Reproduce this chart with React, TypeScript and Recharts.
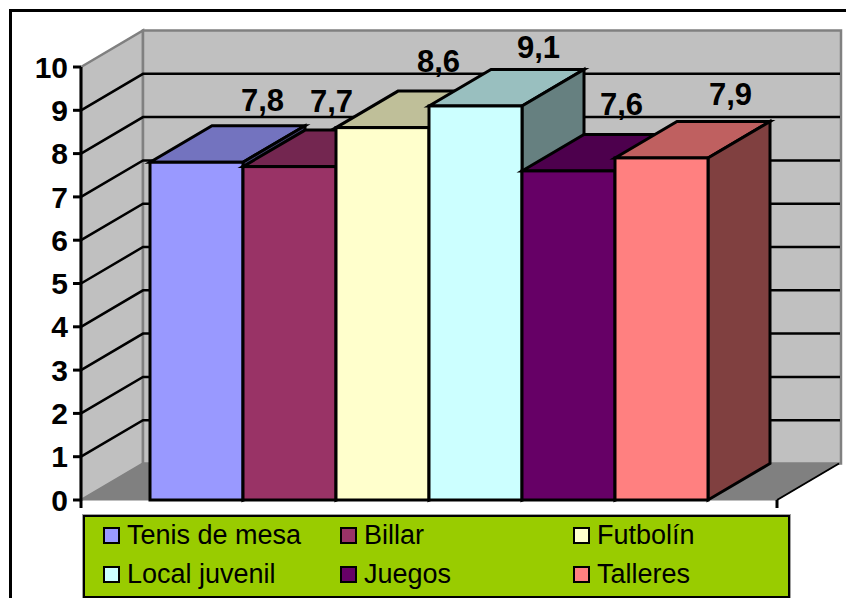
import React from "react";
import { BarChart, Bar, XAxis, YAxis, CartesianGrid, Legend, LabelList, ReferenceArea } from "recharts";

const categories = ["Satisfacción"];
const seriesNames = ["Tenis de mesa", "Billar", "Futbolín", "Local juvenil", "Juegos", "Talleres"];
const seriesValues = [7.8, 7.7, 8.6, 9.1, 7.6, 7.9];
const seriesFront = ["#9999FF", "#993366", "#FFFFCC", "#CCFFFF", "#660066", "#FF8080"];
const seriesTop = ["#7373BF", "#732650", "#BFBF99", "#99BFBF", "#4D004D", "#BF6060"];
const seriesSide = ["#4D4D80", "#4D1A33", "#808066", "#668080", "#330033", "#804040"];
const yTicks = [0, 1, 2, 3, 4, 5, 6, 7, 8, 9, 10];
const labelShiftX = [66, 42, 56, 63, 53, 69];
const labelShiftY = [-51, -55, -56, -48, -56, -53];

const DX = 62;
const DY = -36.5;
const W = 846;
const H = 598;
const TOP = 67;
const BOTTOM = 500;
const FONT = "'Liberation Sans', Arial, sans-serif";

const table = categories.map((c) => {
  const row: Record<string, string | number> = { name: c };
  seriesNames.forEach((s, i) => (row[s] = seriesValues[i]));
  return row;
});

const Walls = (p: any) => {
  const { x, y, width, height } = p;
  const b = y + height;
  const r = x + width;
  return (
    <g>
      <polygon points={`${x},${y} ${x + DX},${y + DY} ${x + DX},${b + DY} ${x},${b}`} fill="#C0C0C0" stroke="#808080" strokeWidth={2.5} />
      <rect x={x + DX} y={y + DY} width={width + 2} height={height} fill="#C0C0C0" stroke="#808080" strokeWidth={2.5} />
      <polygon points={`${x},${b} ${x + DX},${b + DY} ${r + DX},${b + DY} ${r},${b}`} fill="#808080" stroke="#808080" strokeWidth={1} />
      <line x1={r} y1={b} x2={r + DX} y2={b + DY} stroke="#000" strokeWidth={2} />
      <line x1={x} y1={b} x2={x} y2={b + 8} stroke="#000" strokeWidth={3} />
      <line x1={r} y1={b} x2={r} y2={b + 8} stroke="#000" strokeWidth={3} />
    </g>
  );
};

const GridLine = (p: any) => {
  const { x1, x2, y1 } = p;
  if (Math.abs(y1 - TOP) < 1 || Math.abs(y1 - BOTTOM) < 1) return <g key={p.key} />;
  return (
    <polyline
      key={p.key}
      points={`${x1},${y1} ${x1 + DX},${y1 + DY} ${x2 + DX + 1},${y1 + DY}`}
      fill="none"
      stroke="#000"
      strokeWidth={2.5}
    />
  );
};

const Box = (p: any) => {
  const { x, y, width, height, index2 } = p;
  const r = x + width;
  const b = y + height;
  const line = { stroke: "#000", strokeWidth: 3, strokeLinejoin: "miter" as const };
  return (
    <g>
      <polygon points={`${x},${y} ${x + DX},${y + DY} ${r + DX},${y + DY} ${r},${y}`} fill={seriesTop[index2]} {...line} />
      <polygon points={`${r},${y} ${r + DX},${y + DY} ${r + DX},${b + DY} ${r},${b}`} fill={seriesSide[index2]} {...line} />
      <rect x={x} y={y} width={width} height={height} fill={seriesFront[index2]} {...line} />
    </g>
  );
};

const BarLabel = (i: number) => (p: any) => {
  const { x, y, width } = p;
  return (
    <text
      x={x + width / 2 + labelShiftX[i]}
      y={y + labelShiftY[i]}
      textAnchor="middle"
      fontFamily={FONT}
      fontWeight="bold"
      fontSize={31}
      fill="#000"
    >
      {seriesValues[i].toFixed(1).replace(".", ",")}
    </text>
  );
};

const colLeft = [18, 255, 488];
const rowTop = [10, 49];

const LegendBox = ({ payload }: any) => (
  <div
    style={{
      position: "relative",
      width: 703,
      height: 79,
      background: "#99CC00",
      border: "2px solid #000",
      outline: "1px solid #A0A0A0",
      fontFamily: FONT,
      fontSize: 27,
      color: "#000",
    }}
  >
    {(payload || []).map((e: any, i: number) => (
      <React.Fragment key={e.value}>
        <div
          style={{
            position: "absolute",
            left: colLeft[i % 3],
            top: rowTop[Math.floor(i / 3)],
            width: 13,
            height: 13,
            background: e.color,
            border: "2.5px solid #000",
          }}
        />
        <div
          style={{
            position: "absolute",
            left: colLeft[i % 3] + 24,
            top: rowTop[Math.floor(i / 3)] - 7,
            lineHeight: "30px",
            whiteSpace: "nowrap",
          }}
        >
          {e.value}
        </div>
      </React.Fragment>
    ))}
  </div>
);

export default function App() {
  return (
    <div style={{ position: "absolute", left: 0, top: 0, width: W, height: H, overflow: "hidden", background: "#fff" }}>
      <div style={{ position: "absolute", left: 9, top: 9, width: W + 40, height: H + 40, border: "3px solid #000" }} />
      <BarChart
        width={W}
        height={H}
        data={table}
        margin={{ top: TOP, right: 69, bottom: H - BOTTOM, left: 0 }}
        barCategoryGap={69}
        barGap={0}
        style={{ position: "absolute", left: 0, top: 0 }}
      >
        <ReferenceArea y1={0} y2={10} shape={Walls} stroke="none" fill="none" {...({ zIndex: -200 } as any)} />
        <CartesianGrid vertical={false} horizontal={GridLine as any} />
        <XAxis dataKey="name" height={0} tick={false} tickLine={false} axisLine={{ stroke: "#000", strokeWidth: 3 }} />
        <YAxis
          width={81}
          domain={[0, 10]}
          ticks={yTicks}
          interval={0}
          tickSize={8}
          tickMargin={5}
          tickLine={{ stroke: "#000", strokeWidth: 3 }}
          axisLine={{ stroke: "#000", strokeWidth: 3 }}
          tick={{ fill: "#000", fontFamily: FONT, fontWeight: "bold", fontSize: 30 }}
        />
        <Legend
          layout="horizontal"
          verticalAlign="middle"
          align="center"
          itemSorter={null as any}
          content={<LegendBox />}
          wrapperStyle={{ left: 83, top: 515, width: 707, height: 83, margin: 0 }}
        />
        {seriesNames.map((s, i) => (
          <Bar
            key={s}
            dataKey={s}
            name={s}
            fill={seriesFront[i]}
            isAnimationActive={false}
            shape={(p: any) => <Box {...p} index2={i} />}
          >
            <LabelList dataKey={s} content={BarLabel(i) as any} />
          </Bar>
        ))}
      </BarChart>
    </div>
  );
}
